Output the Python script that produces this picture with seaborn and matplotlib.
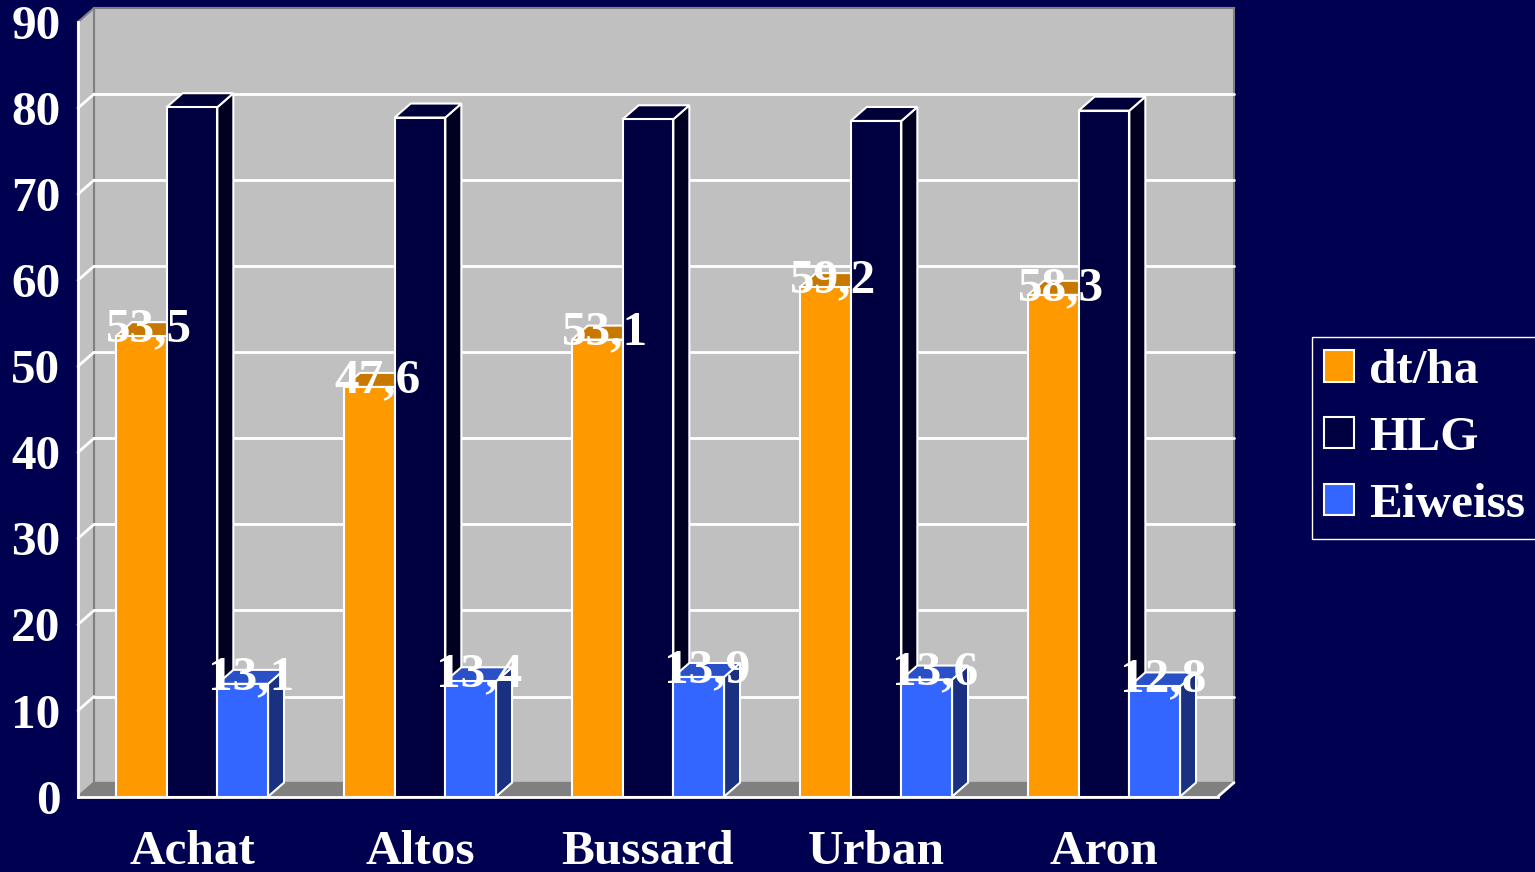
import numpy as np
import pandas as pd
import matplotlib
matplotlib.use("Agg")
import matplotlib.pyplot as plt
import seaborn as sns
from matplotlib.patches import Polygon, Rectangle, Patch
from matplotlib.colors import to_hex

# data
sorten = ["Achat", "Altos", "Bussard", "Urban", "Aron"]
merkmale = ["dt/ha", "HLG", "Eiweiss"]
ertrag = [53.5, 47.6, 53.1, 59.2, 58.3]
hlg = [80.1, 78.9, 78.7, 78.5, 79.7]
eiweiss = [13.1, 13.4, 13.9, 13.6, 12.8]
y_ticks = [0, 10, 20, 30, 40, 50, 60, 70, 80, 90]
beschriftet = ["dt/ha", "Eiweiss"]

BG = "#000050"
WALL = "#C0C0C0"
FLOOR = "#808080"
front_col = {"dt/ha": "#FF9900", "HLG": "#000040", "Eiweiss": "#3366FF"}
top_col = {"dt/ha": "#C87800", "HLG": "#000038", "Eiweiss": "#2A50C8"}
side_col = {"dt/ha": "#A06000", "HLG": "#000020", "Eiweiss": "#1A3080"}
FS = 35.5

df = pd.DataFrame({
    "Sorte": sorten * 3,
    "Merkmal": np.repeat(merkmale, len(sorten)),
    "Wert": ertrag + hlg + eiweiss,
})

sns.set_theme(style="white")
plt.rcParams["font.family"] = ["Liberation Serif", "DejaVu Serif"]
plt.rcParams["font.weight"] = "bold"

W, H = 1535, 872
fig = plt.figure(figsize=(W / 100, H / 100), dpi=100, facecolor=BG)
ax_l, ax_b, ax_w, ax_h = 78, 796.6, 1140, 774.6
ax = fig.add_axes([ax_l / W, 1 - ax_b / H, ax_w / W, ax_h / H])
ax.set_facecolor("none")

sns.barplot(data=df, x="Sorte", y="Wert", hue="Merkmal", order=sorten,
            hue_order=merkmale, palette=front_col, saturation=1, width=0.667,
            errorbar=None, edgecolor="white", linewidth=1.5, legend=False, ax=ax)
ax.set_xlim(-0.5, len(sorten) - 0.5)
ax.set_ylim(0, 90)

hex_to_name = {to_hex(c): n for n, c in front_col.items()}
bars = [p for p in ax.patches if isinstance(p, Rectangle)
        and to_hex(p.get_facecolor()) in hex_to_name]
bars = sorted(bars, key=lambda p: p.get_x())

# 3D depth offset in data units (16 px right, 14 px up)
DX = 16 * len(sorten) / ax_w
DY = 14 * 90 / ax_h
x_lo, x_hi = -0.5, len(sorten) - 0.5

# walls and floor
ax.add_patch(Rectangle((x_lo + DX, DY), x_hi - x_lo, 90, fc=WALL, ec=FLOOR,
                       lw=1.5, zorder=0.2, clip_on=False))
ax.add_patch(Polygon([(x_lo, 0), (x_lo, 90), (x_lo + DX, 90 + DY), (x_lo + DX, DY)],
                     closed=True, fc=WALL, ec=FLOOR, lw=1.5, zorder=0.3, clip_on=False))
for v in y_ticks[1:-1]:
    ax.plot([x_lo + DX, x_hi + DX], [v + DY, v + DY], color="white", lw=2,
            zorder=0.5, clip_on=False)
    ax.plot([x_lo, x_lo + DX], [v, v + DY], color="white", lw=2,
            zorder=0.5, clip_on=False)
ax.add_patch(Polygon([(x_lo, 0), (x_hi, 0), (x_hi + DX, DY), (x_lo + DX, DY)],
                     closed=True, fc=FLOOR, ec=FLOOR, lw=1, zorder=0.6, clip_on=False))
ax.plot([x_hi, x_hi + DX], [0, DY], color="white", lw=2, zorder=0.7, clip_on=False)

# give the bars their top and side faces
for k, p in enumerate(bars):
    name = hex_to_name[to_hex(p.get_facecolor())]
    x0, w, h = p.get_x(), p.get_width(), p.get_height()
    x1 = x0 + w
    z = 3 + 2 * k
    ax.add_patch(Polygon([(x1, 0), (x1, h), (x1 + DX, h + DY), (x1 + DX, DY)],
                         closed=True, fc=side_col[name], ec="white", lw=1.5,
                         zorder=z, clip_on=False))
    ax.add_patch(Polygon([(x0, h), (x1, h), (x1 + DX, h + DY), (x0 + DX, h + DY)],
                         closed=True, fc=top_col[name], ec="white", lw=1.5,
                         zorder=z, clip_on=False))
    p.set_zorder(z + 1)
    if name in beschriftet:
        ax.text(x0 + w / 2 + DX / 2, h + DY / 2, f"{h:.1f}".replace(".", ","),
                ha="center", va="center", fontsize=FS, color="white",
                fontweight="bold", zorder=100)

# axes styling
for s in ["top", "right"]:
    ax.spines[s].set_visible(False)
for s in ["left", "bottom"]:
    ax.spines[s].set_color("white")
    ax.spines[s].set_linewidth(2)
    ax.spines[s].set_zorder(50)
ax.set_yticks(y_ticks)
ax.tick_params(axis="y", colors="white", length=8.6, width=1.5, pad=4, labelsize=FS)
ax.set_xticks(range(len(sorten)), sorten)
ax.set_xticks(np.arange(x_lo, x_hi + 0.01, 1), minor=True)
ax.tick_params(axis="x", which="major", length=0, pad=24, labelsize=FS, colors="white")
ax.tick_params(axis="x", which="minor", length=7.5, width=1.5, color="white")
ax.set_xlabel("")
ax.set_ylabel("")

handles = [Patch(fc=front_col[m], ec="white", lw=1.5) for m in merkmale]
fig.legend(handles, merkmale, loc="upper left",
           bbox_to_anchor=(1312 / W, 1 - 337 / H), bbox_transform=fig.transFigure,
           frameon=True, fancybox=False, facecolor=BG, edgecolor="white",
           framealpha=1, fontsize=FS, labelcolor="white", handlelength=0.6,
           handleheight=0.6, handletextpad=0.3, labelspacing=0.46,
           borderpad=0.25, borderaxespad=0)

fig.savefig("out.png", dpi=100, facecolor=BG)
